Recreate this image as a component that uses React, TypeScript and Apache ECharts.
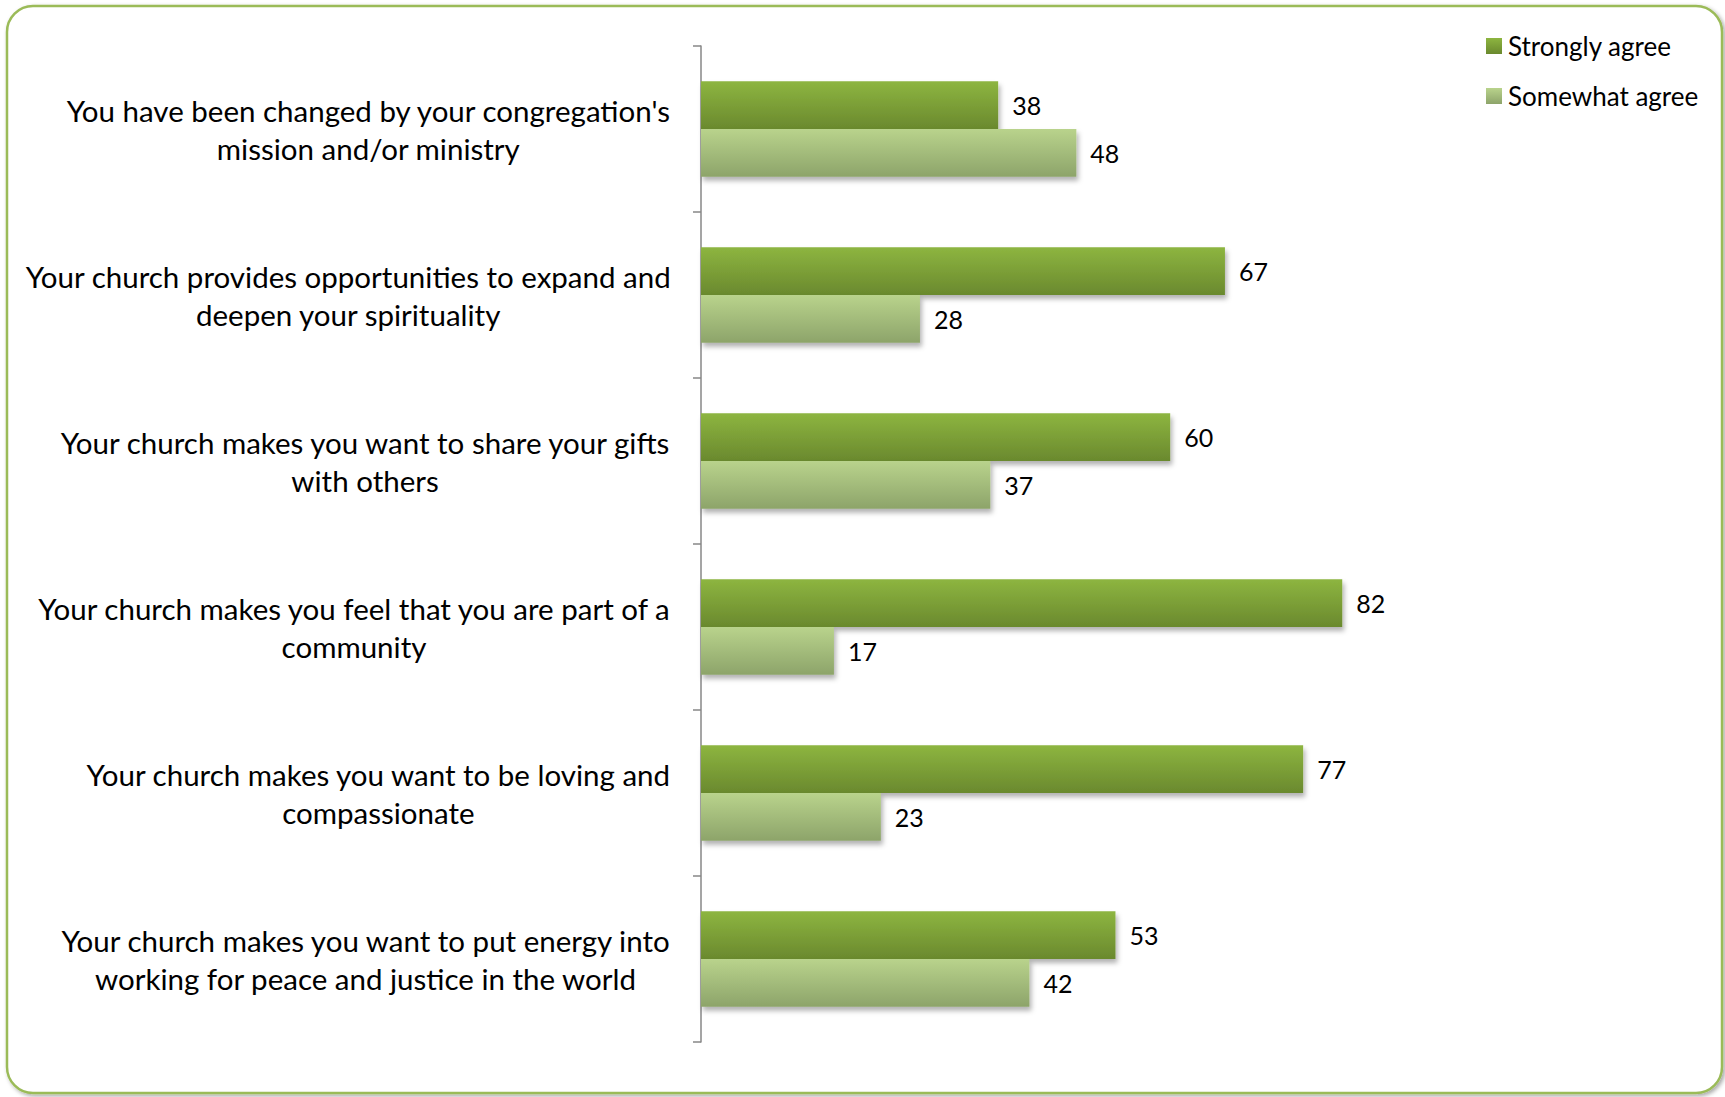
import React, { useEffect, useRef } from "react";
import * as echarts from "echarts";

const categories = [
  "You have been changed by your congregation's\nmission and/or ministry",
  "Your church provides opportunities to expand and\ndeepen your spirituality",
  "Your church makes you want to share your gifts\nwith others",
  "Your church makes you feel that you are part of a\ncommunity",
  "Your church makes you want to be loving and\ncompassionate",
  "Your church makes you want to put energy into\nworking for peace and justice in the world",
];
const stronglyAgree = [38, 67, 60, 82, 77, 53];
const somewhatAgree = [48, 28, 37, 17, 23, 42];
const seriesNames = ["Strongly agree", "Somewhat agree"];

const FONT = "Lato, 'Open Sans', sans-serif";

export default function App() {
  const ref = useRef<HTMLDivElement>(null);
  useEffect(() => {
    document.body.style.margin = "0";
    const chart = echarts.init(ref.current!, null, { renderer: "svg" });
    const grad = (top: string, bottom: string) =>
      new echarts.graphic.LinearGradient(0, 0, 0, 1, [
        { offset: 0, color: top },
        { offset: 1, color: bottom },
      ]);
    const barShadow = {
      shadowBlur: 5,
      shadowOffsetX: 2,
      shadowOffsetY: 4,
      shadowColor: "rgba(0,0,0,0.3)",
    };
    const valueLabel = {
      show: true,
      position: "right",
      distance: 14,
      fontFamily: FONT,
      fontSize: 25,
      color: "#000000",
    };
    chart.setOption({
      animation: false,
      backgroundColor: "#ffffff",
      graphic: [
        {
          type: "rect",
          z: -10,
          silent: true,
          shape: { x: 7, y: 6, width: 1715, height: 1087, r: 26 },
          style: {
            fill: "#ffffff",
            stroke: "#9bbb59",
            lineWidth: 2.5,
            shadowBlur: 4,
            shadowOffsetX: 2,
            shadowOffsetY: 2,
            shadowColor: "rgba(0,0,0,0.35)",
          },
        },
      ],
      legend: {
        orient: "vertical",
        left: 1481,
        top: 27,
        itemWidth: 16,
        itemHeight: 16,
        itemGap: 22,
        icon: "rect",
        textStyle: {
          fontFamily: FONT,
          fontSize: 26,
          lineHeight: 28,
          color: "#000000",
          padding: [0, 0, 0, 1],
        },
        data: seriesNames,
      },
      grid: { left: 701, top: 46, bottom: 55, width: 782, containLabel: false },
      xAxis: {
        type: "value",
        min: 0,
        max: 100,
        show: false,
        splitLine: { show: false },
      },
      yAxis: {
        type: "category",
        inverse: true,
        data: categories,
        axisLine: { show: true, lineStyle: { color: "#878787", width: 1.5 } },
        axisTick: { show: true, length: 8, lineStyle: { color: "#878787", width: 1.5 } },
        axisLabel: {
          margin: 30,
          formatter: (v: string) =>
            v
              .split("\n")
              .map((l) => `{a|${l}}`)
              .join("\n"),
          rich: {
            a: {
              align: "center",
              fontFamily: FONT,
              fontSize: 29.5,
              lineHeight: 38,
              color: "#000000",
            },
          },
        },
      },
      series: [
        {
          name: seriesNames[0],
          type: "bar",
          data: stronglyAgree,
          barGap: "0%",
          barCategoryGap: "42.6%",
          itemStyle: { color: grad("#8db540", "#6a892e"), ...barShadow },
          label: valueLabel,
        },
        {
          name: seriesNames[1],
          type: "bar",
          data: somewhatAgree,
          itemStyle: { color: grad("#b9d38c", "#8da46a"), ...barShadow },
          label: valueLabel,
        },
      ],
    });
    return () => chart.dispose();
  }, []);
  return <div ref={ref} style={{ width: 1725, height: 1097 }} />;
}
